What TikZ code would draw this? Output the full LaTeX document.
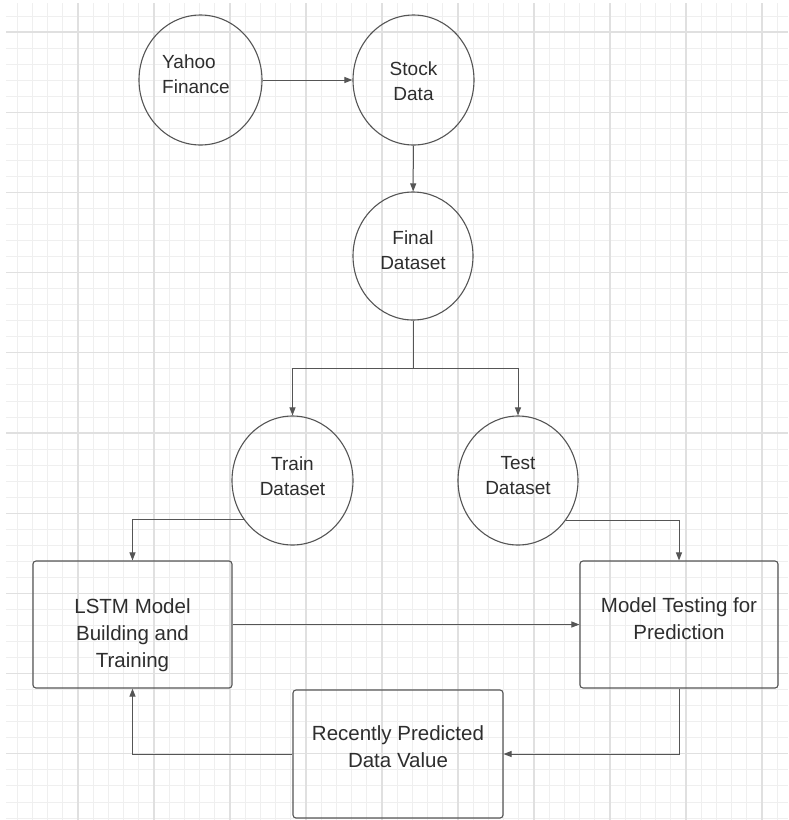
\documentclass[tikz,border=0pt]{standalone}
\usepackage{fontspec}
\setmainfont{Liberation Sans}
\usetikzlibrary{shapes.geometric,arrows.meta}
\definecolor{gridminor}{HTML}{EFEFEF}
\definecolor{gridmajor}{HTML}{E0E0E0}
\definecolor{edgecol}{HTML}{555555}
\definecolor{txtcol}{HTML}{2E2E2E}
\tikzset{
  minorline/.style={gridminor, line width=0.8pt},
  majorline/.style={gridmajor, line width=1.3pt},
  circ/.style={ellipse, draw=edgecol, line width=1.1pt, inner sep=0pt},
  boxnode/.style={rectangle, draw=edgecol, line width=1.1pt, rounded corners=3pt, inner sep=0pt},
  ctxt/.style={text=txtcol, align=center, font=\fontsize{19}{25}\selectfont, inner sep=0pt, text depth=0pt},
  btxt/.style={text=txtcol, align=center, font=\fontsize{20.5}{27}\selectfont, inner sep=0pt, text depth=0pt},
  link/.style={draw=edgecol, line width=1pt},
  arr/.style={link, -{Triangle[length=8pt,width=6pt]}}
}
\begin{document}
\begin{tikzpicture}[x=1pt,y=-1pt]
\useasboundingbox (0,0) rectangle (788,820);
\fill[white] (0,0) rectangle (788,820);
% grid
\begin{scope}
\clip (6,3) rectangle (788,820);
\foreach \i in {0,...,51} \draw[minorline] ({2+15.2*\i},0) -- ({2+15.2*\i},820);
\foreach \j in {0,...,51} \draw[minorline] (0,{32+16.04*(\j-2)}) -- (788,{32+16.04*(\j-2)});
\foreach \i in {0,...,10} \draw[majorline] ({2+76*\i},0) -- ({2+76*\i},820);
\foreach \j in {0,...,9} \draw[majorline] (0,{32+80.2*\j}) -- (788,{32+80.2*\j});
\end{scope}
% circles
\node[circ, minimum width=123pt, minimum height=130pt] (yahoo) at (200.5,80) {};
\node[circ, minimum width=121pt, minimum height=130pt] (stock) at (413.5,80) {};
\node[circ, minimum width=120pt, minimum height=128pt] (final) at (413,256) {};
\node[circ, minimum width=121pt, minimum height=129pt] (train) at (292.5,480.5) {};
\node[circ, minimum width=120pt, minimum height=129pt] (test) at (518,480.5) {};
% boxes
\node[boxnode, minimum width=199pt, minimum height=127pt] (lstm) at (132.5,624.5) {};
\node[boxnode, minimum width=198pt, minimum height=127pt] (model) at (679,624.5) {};
\node[boxnode, minimum width=210pt, minimum height=128pt] (recent) at (398,754) {};
% texts
\node[ctxt, align=left] (yahooT) at (196,74) {Yahoo\\Finance};
\node[ctxt] (stockT) at (413.5,81) {Stock\\Data};
\node[ctxt] (finalT) at (413,250.5) {Final\\Dataset};
\node[ctxt] (trainT) at (292.5,476) {Train\\Dataset};
\node[ctxt] (testT) at (518,475.5) {Test\\Dataset};
\node[btxt] (lstmT) at (132.5,633.5) {LSTM Model\\Building and\\Training};
\node[btxt] (modelT) at (679,619) {Model Testing for\\Prediction};
\node[btxt] (recentT) at (398,747) {Recently Predicted\\Data Value};
% connectors
\coordinate (br) at (413,368);
\draw[arr] (yahoo) -- (stock);
\draw[arr] (stock) -- (final);
\draw[link] (final.south) -- (br);
\draw[arr] (br) -| (train.north);
\draw[arr] (br) -| (test.north);
\draw[arr] (train.219.5) -| (lstm.north);
\draw[arr] (test.320.5) -| (model.north);
\draw[arr] (lstm) -- (model);
\draw[arr] (model.south) |- (recent.east);
\draw[arr] (recent.west) -| (lstm.south);
\end{tikzpicture}
\end{document}
